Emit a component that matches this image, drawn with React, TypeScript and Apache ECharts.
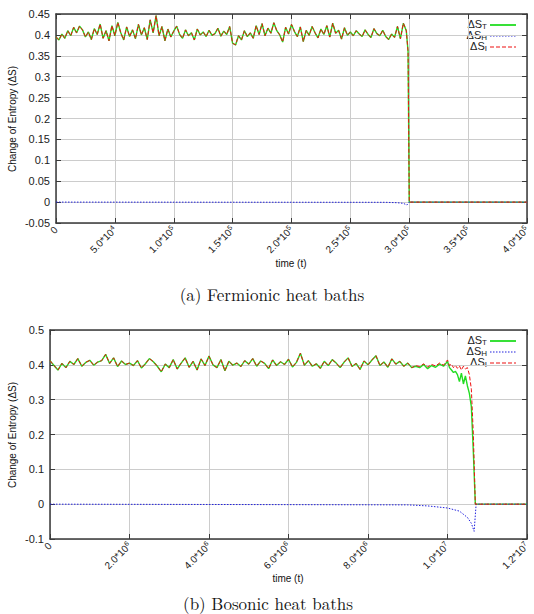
import React, { useEffect, useRef } from "react";
import * as echarts from "echarts";

// ---------- Fermionic heat baths ----------
// sampling grid of the fluctuating regime: t = 0 .. 297500, step 2500
const fermiStep = 2500;
const fermiFluct = [
  0.395, 0.388, 0.402, 0.392, 0.410, 0.398, 0.418, 0.405, 0.421, 0.412,
  0.395, 0.407, 0.389, 0.415, 0.401, 0.426, 0.392, 0.410, 0.386, 0.422,
  0.398, 0.430, 0.405, 0.388, 0.419, 0.396, 0.412, 0.391, 0.425, 0.400,
  0.417, 0.389, 0.436, 0.405, 0.446, 0.398, 0.420, 0.386, 0.414, 0.395,
  0.409, 0.421, 0.401, 0.392, 0.412, 0.398, 0.405, 0.388, 0.414, 0.400,
  0.407, 0.396, 0.411, 0.399, 0.403, 0.416, 0.397, 0.409, 0.401, 0.420,
  0.380, 0.376, 0.398, 0.388, 0.410, 0.396, 0.405, 0.392, 0.422, 0.401,
  0.427, 0.398, 0.416, 0.404, 0.429, 0.410, 0.400, 0.383, 0.418, 0.402,
  0.425, 0.408, 0.396, 0.419, 0.384, 0.411, 0.399, 0.420, 0.405, 0.393,
  0.414, 0.401, 0.422, 0.395, 0.428, 0.404, 0.411, 0.390, 0.417, 0.399,
  0.407, 0.398, 0.410, 0.402, 0.396, 0.412, 0.401, 0.394, 0.415, 0.403,
  0.398, 0.411, 0.396, 0.389, 0.402, 0.394, 0.420, 0.391, 0.428, 0.410,
];
// collapse of the entropy change after the bath is exhausted
const fermiDropTimes = [299000, 300000, 400000];
const fermiDropValues = [0.36, 0.0, 0.0];
// heat-bath contribution ΔS_H
const fermiHTimes = [0, 280000, 290000, 295000, 298000, 300000, 400000];
const fermiHValues = [0, -0.0005, -0.0015, -0.003, -0.007, 0, 0];
const fermiXTicks = [
  ["0", ""], ["5.0*10", "4"], ["1.0*10", "5"], ["1.5*10", "5"], ["2.0*10", "5"],
  ["2.5*10", "5"], ["3.0*10", "5"], ["3.5*10", "5"], ["4.0*10", "5"],
];

// ---------- Bosonic heat baths ----------
// sampling grid of the common fluctuating regime: t = 0 .. 9.1e6, step 1e5
const boseStep = 100000;
const boseFluct = [
  0.412, 0.398, 0.385, 0.404, 0.392, 0.410, 0.401, 0.418, 0.396, 0.407,
  0.413, 0.399, 0.408, 0.412, 0.430, 0.404, 0.420, 0.395, 0.411, 0.401,
  0.405, 0.398, 0.412, 0.391, 0.403, 0.418, 0.409, 0.396, 0.380, 0.402,
  0.392, 0.415, 0.388, 0.405, 0.420, 0.393, 0.410, 0.385, 0.417, 0.398,
  0.425, 0.400, 0.392, 0.415, 0.383, 0.410, 0.399, 0.405, 0.395, 0.412,
  0.402, 0.418, 0.396, 0.411, 0.404, 0.389, 0.414, 0.398, 0.409, 0.401,
  0.416, 0.394, 0.407, 0.433, 0.399, 0.412, 0.396, 0.403, 0.390, 0.410,
  0.398, 0.415, 0.405, 0.392, 0.408, 0.420, 0.395, 0.404, 0.387, 0.411,
  0.400, 0.414, 0.426, 0.398, 0.408, 0.393, 0.417, 0.402, 0.410, 0.396,
  0.405, 0.392,
];
// late regime where ΔS_T and ΔS_I separate before the collapse
const boseTailTimes = [
  9.2e6, 9.3e6, 9.4e6, 9.5e6, 9.6e6, 9.7e6, 9.8e6, 9.9e6, 1.0e7, 1.005e7,
  1.01e7, 1.015e7, 1.02e7, 1.025e7, 1.03e7, 1.035e7, 1.04e7, 1.045e7, 1.05e7,
  1.055e7, 1.06e7, 1.065e7, 1.07e7, 1.2e7,
];
const boseTailT = [
  0.396, 0.392, 0.401, 0.389, 0.398, 0.393, 0.402, 0.396, 0.410, 0.392,
  0.385, 0.378, 0.381, 0.372, 0.352, 0.376, 0.345, 0.368, 0.340, 0.318,
  0.280, 0.150, 0.000, 0.000,
];
const boseTailI = [
  0.398, 0.395, 0.403, 0.394, 0.401, 0.397, 0.405, 0.399, 0.414, 0.398,
  0.402, 0.392, 0.398, 0.390, 0.397, 0.385, 0.396, 0.388, 0.392, 0.372,
  0.330, 0.200, 0.000, 0.000,
];
const boseHTimes = [0, 9.0e6, 9.5e6, 1.0e7, 1.03e7, 1.05e7, 1.06e7, 1.067e7, 1.072e7, 1.2e7];
const boseHValues = [0, -0.002, -0.005, -0.011, -0.02, -0.038, -0.055, -0.078, 0, 0];
const boseXTicks = [
  ["0", ""], ["2.0*10", "6"], ["4.0*10", "6"], ["6.0*10", "6"],
  ["8.0*10", "6"], ["1.0*10", "7"], ["1.2*10", "7"],
];

const seriesNames = ["ΔS_T", "ΔS_H", "ΔS_I"];
const colT = "#22dd22";
const colH = "#2222dd";
const colI = "#ee1111";

const SANS = "Liberation Sans, Arial, sans-serif";
const SERIF = "Latin Modern Roman, DejaVu Serif, serif";

const pairs = (ts: number[], vs: number[]) => ts.map((t, i) => [t, vs[i]]);
const gridded = (step: number, vs: number[]) => vs.map((v, i) => [i * step, v]);

const yFmt = (v: number) => String(Math.round(v * 100) / 100);

const richTick = {
  m: { fontSize: 10, fontFamily: SANS, color: "#222", lineHeight: 12 },
  e: { fontSize: 7, fontFamily: SANS, color: "#222", lineHeight: 12, verticalAlign: "top" as const },
};

function axisPair(
  grid: number,
  min: number,
  max: number,
  interval: number,
  isX: boolean,
  ticks?: string[][],
  yLabelSize = 11
) {
  const line = { show: true, onZero: false, lineStyle: { color: "#3a3a3a", width: 1.5 } };
  const tick = { show: true, inside: true, length: 5, lineStyle: { color: "#3a3a3a", width: 1 } };
  const main: any = {
    type: "value",
    gridIndex: grid,
    min,
    max,
    interval,
    position: isX ? "bottom" : "left",
    axisLine: line,
    axisTick: tick,
    splitLine: { show: true, lineStyle: { color: "#cccccc", width: 1 } },
    axisLabel: isX
      ? {
          rotate: 45,
          margin: 5,
          formatter: (_v: number, i: number) => {
            const t = ticks![i];
            if (!t) return "";
            return t[1] ? `{m|${t[0]}}{e|${t[1]}}` : `{m|${t[0]}}`;
          },
          rich: richTick,
        }
      : { margin: 6, fontSize: yLabelSize, fontFamily: SANS, color: "#222", formatter: yFmt },
  };
  const mirror: any = {
    type: "value",
    gridIndex: grid,
    min,
    max,
    interval,
    position: isX ? "top" : "right",
    axisLine: line,
    axisTick: tick,
    splitLine: { show: false },
    axisLabel: { show: false },
  };
  return [main, mirror];
}

function legendBlock(top: number) {
  const rowGap = 11;
  const items: any[] = [];
  const styles = [
    { stroke: colT, lineWidth: 1.8, lineDash: null },
    { stroke: colH, lineWidth: 1.2, lineDash: [1.5, 1.5] },
    { stroke: colI, lineWidth: 1.2, lineDash: [4, 2] },
  ];
  seriesNames.forEach((name, i) => {
    const [base, sub] = name.split("_");
    const y = top + i * rowGap;
    items.push({
      type: "text",
      x: 487,
      y,
      style: {
        text: `{m|${base}}{s|${sub}}`,
        align: "right",
        verticalAlign: "middle",
        rich: {
          m: { fontSize: 11, fontFamily: SANS, fill: "#222", lineHeight: 12 },
          s: { fontSize: 8, fontFamily: SANS, fill: "#222", lineHeight: 12, verticalAlign: "bottom" },
        },
      },
    });
    items.push({
      type: "line",
      shape: { x1: 490, y1: y + 1, x2: 516, y2: y + 1 },
      style: { ...styles[i] },
    });
  });
  return items;
}

function textEl(text: string, x: number, y: number, size: number, family: string, rotation = 0) {
  return {
    type: "text",
    x,
    y,
    rotation,
    style: { text, fontSize: size, fontFamily: family, fill: "#111", align: "center", verticalAlign: "middle" },
  };
}

export default function App() {
  const ref = useRef<HTMLDivElement>(null);

  useEffect(() => {
    if (!ref.current) return;
    const chart = echarts.init(ref.current, undefined, { renderer: "svg" });

    const fermiMain = gridded(fermiStep, fermiFluct).concat(pairs(fermiDropTimes, fermiDropValues));
    const boseT = gridded(boseStep, boseFluct).concat(pairs(boseTailTimes, boseTailT));
    const boseI = gridded(boseStep, boseFluct).concat(pairs(boseTailTimes, boseTailI));

    const lineSeries = (name: string, axis: number, data: number[][], color: string, width: number, type: any) => ({
      name,
      type: "line",
      xAxisIndex: axis,
      yAxisIndex: axis,
      data,
      showSymbol: false,
      symbol: "none",
      lineStyle: { color, width, type },
      z: 3,
    });

    const [fx, fxTop] = axisPair(0, 0, 400000, 50000, true, fermiXTicks);
    const [fy, fyRight] = axisPair(0, -0.05, 0.45, 0.05, false);
    const [bx, bxTop] = axisPair(1, 0, 12000000, 2000000, true, boseXTicks);
    const [by, byRight] = axisPair(1, -0.1, 0.5, 0.1, false);

    chart.setOption({
      animation: false,
      backgroundColor: "#ffffff",
      grid: [
        { left: 56, top: 14, width: 471, height: 209 },
        { left: 50, top: 330, width: 477, height: 209 },
      ],
      xAxis: [fx, fxTop, bx, bxTop],
      yAxis: [fy, fyRight, by, byRight],
      series: [
        lineSeries(seriesNames[0], 0, fermiMain, colT, 1.4, "solid"),
        lineSeries(seriesNames[1], 0, pairs(fermiHTimes, fermiHValues), colH, 1, [1.5, 1.5]),
        lineSeries(seriesNames[2], 0, fermiMain, colI, 1, [4, 2]),
        lineSeries(seriesNames[0], 2, boseT, colT, 1.4, "solid"),
        lineSeries(seriesNames[1], 2, pairs(boseHTimes, boseHValues), colH, 1, [1.5, 1.5]),
        lineSeries(seriesNames[2], 2, boseI, colI, 1, [4, 2]),
      ],
      graphic: [
        ...legendBlock(24),
        ...legendBlock(340),
        textEl("Change of Entropy (ΔS)", 12, 119, 10, SANS, Math.PI / 2),
        textEl("Change of Entropy (ΔS)", 12, 435, 10, SANS, Math.PI / 2),
        textEl("time (t)", 291, 263, 10, SANS),
        textEl("time (t)", 288, 578, 10, SANS),
        textEl("(a) Fermionic heat baths", 272, 294, 17, SERIF),
        textEl("(b) Bosonic heat baths", 268, 603, 17, SERIF),
      ],
    });

    return () => chart.dispose();
  }, []);

  return (
    <div
      ref={ref}
      style={{ position: "fixed", left: 0, top: 0, width: 534, height: 614, background: "#fff" }}
    />
  );
}
